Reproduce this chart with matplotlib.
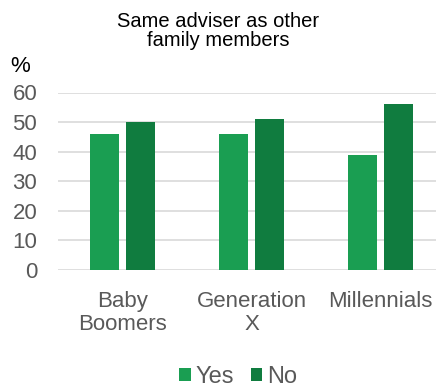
import numpy as np
import matplotlib.pyplot as plt

plt.rcParams['font.family'] = ['Liberation Sans', 'DejaVu Sans']

categories = ['Baby\nBoomers', 'Generation\nX', 'Millennials']
yes_values = [46, 46, 39]
no_values = [50, 51, 56]
y_ticks = [0, 10, 20, 30, 40, 50, 60]

yes_color = '#1a9e52'
no_color = '#107c3f'
text_gray = '#595959'

W, H = 436, 387
fig = plt.figure(figsize=(W / 100, H / 100), dpi=100)
ax = fig.add_axes([58 / W, (H - 270) / H, 378 / W, (270 - 92.5) / H])

x = np.arange(len(categories))
bw = 0.225
off = 0.143
ax.bar(x - off, yes_values, bw, color=yes_color, label='Yes', zorder=3)
ax.bar(x + off, no_values, bw, color=no_color, label='No', zorder=3)

ax.set_xlim(-0.5, 2.43)
ax.set_ylim(0, 60)
ax.set_yticks(y_ticks)
ax.set_xticks(x)
ax.set_xticklabels(categories, linespacing=1.15)
ax.tick_params(axis='y', length=0, pad=15, labelsize=16, labelcolor=text_gray)
ax.tick_params(axis='x', length=0, pad=15, labelsize=16, labelcolor=text_gray)
ax.grid(axis='y', color='#d9d9d9', linewidth=1.2, zorder=0)
for s in ax.spines.values():
    s.set_visible(False)

fig.text(218 / W, 1 - 31 / H, 'Same adviser as other\nfamily members',
         ha='center', va='center', fontsize=14.5, linespacing=1.05)
fig.text(10 / W, 1 - 66 / H, '%', ha='left', va='center', fontsize=16)

fig.legend(loc='center', bbox_to_anchor=(238 / W, 1 - 377 / H), ncol=2,
           frameon=False, fontsize=17, handlelength=0.5, handleheight=0.5,
           handletextpad=0.2, columnspacing=0.7, labelcolor=text_gray)

fig.savefig('out.png', dpi=100)
